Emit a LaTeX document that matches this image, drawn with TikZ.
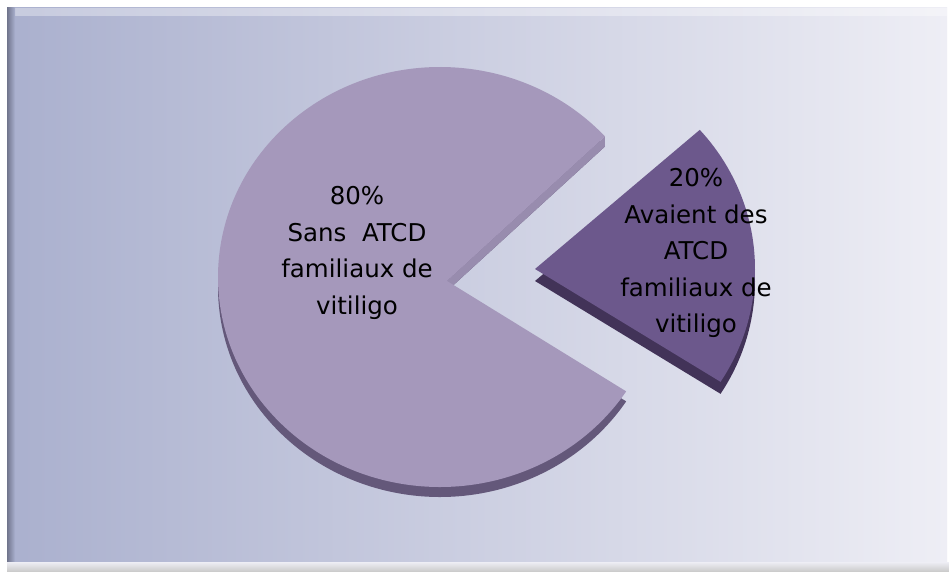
\documentclass[tikz,border=0pt]{standalone}
\usepackage{fontspec}
\setmainfont{DejaVu Sans}
\usetikzlibrary{calc}

\definecolor{panelleft}{RGB}{170,176,206}
\definecolor{panelright}{RGB}{238,238,245}
\definecolor{beveldark}{RGB}{112,117,140}
\definecolor{bigpurple}{RGB}{165,152,187}
\definecolor{bigdark}{RGB}{100,88,122}
\definecolor{bigcutface}{RGB}{152,140,174}
\definecolor{smallpurple}{RGB}{108,88,140}
\definecolor{smalldark}{RGB}{66,51,88}

\begin{document}
\begin{tikzpicture}[x=1pt,y=1pt,
    bigface/.style={fill=bigpurple},
    bigside/.style={fill=bigdark},
    smallface/.style={fill=smallpurple},
    smallside/.style={fill=smalldark},
    piecetext/.style={align=center,inner sep=0pt,
      font=\fontsize{24.5}{36.5}\selectfont}]
   \useasboundingbox (0,0) rectangle (949,571);
   \fill[white] (0,0) rectangle (949,571);

   % panel with bevel
   \shade[left color=panelleft,right color=panelright] (7,8) rectangle (947,563);
   \fill[white,opacity=0.35] (7,555) rectangle (947,563);
   \shade[left color=beveldark,right color=panelleft] (7,8) rectangle (15,563);
   \shade[top color=panelright,bottom color=gray!40] (7,0) rectangle (949,9);

   \coordinate (bigc) at (440,294);
   \coordinate (bigv) at (447,290);
   \coordinate (bigtop) at ($(bigc)+(42:222pt and 210pt)$);
   \coordinate (smallc) at (535,302);
   \coordinate (smallbot) at ($(smallc)+(-32.5:220pt and 210pt)$);

   % 80% slice
   \fill[bigside] ($(bigv)+(0,-10)$) -- ($(bigtop)+(0,-10)$)
     arc[start angle=42,end angle=327,x radius=222pt,y radius=210pt] -- cycle;
   \fill[fill=bigcutface] (bigv) -- (bigtop) -- ++(0,-10) -- ($(bigv)+(0,-10)$) -- cycle;
   \fill[bigface] (bigv) -- (bigtop)
     arc[start angle=42,end angle=327,x radius=222pt,y radius=210pt] -- cycle;

   % 20% slice, pulled out
   \fill[smallside] ($(smallc)+(0,-12)$) -- ($(smallbot)+(0,-12)$)
     arc[start angle=-32.5,end angle=41.5,x radius=220pt,y radius=210pt] -- cycle;
   \fill[smallface] (smallc) -- (smallbot)
     arc[start angle=-32.5,end angle=41.5,x radius=220pt,y radius=210pt] -- cycle;

   \node[piecetext] (bigtext) at (357,318) {80\%\\Sans\ \ ATCD\\familiaux de\\vitiligo};
   \node[piecetext] (smalltext) at (696,318) {20\%\\Avaient des\\ATCD\\familiaux de\\vitiligo};
\end{tikzpicture}
\end{document}
